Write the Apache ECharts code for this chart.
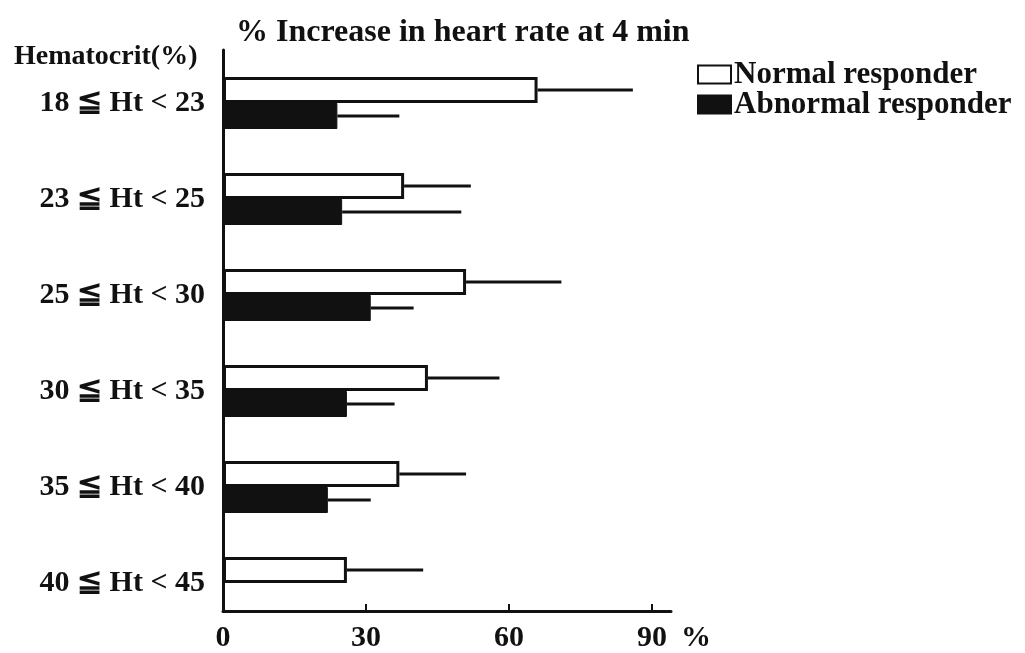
<!DOCTYPE html>
<html>
<head>
<meta charset="utf-8">
<script src="https://cdn.jsdelivr.net/npm/echarts@6/dist/echarts.min.js"></script>
<style>
  html, body { margin: 0; padding: 0; background: #fff; }
  #chart { width: 1025px; height: 653px; }
</style>
</head>
<body>
<div id="chart"></div>
<script>
// Hematocrit ranges (top to bottom)
const categories = ['18 ≦ Ht < 23', '23 ≦ Ht < 25', '25 ≦ Ht < 30', '30 ≦ Ht < 35', '35 ≦ Ht < 40', '40 ≦ Ht < 45'];

// % increase in heart rate at 4 min: mean and SD per group
const normalMean = [66, 38, 51, 43, 37, 26];
const normalSD = [20, 14, 20, 15, 14, 16];
const abnormalMean = [24, 25, 31, 26, 22, null];
const abnormalSD = [13, 25, 9, 10, 9, null];

const xTickValues = [30, 60, 90];
const xLabelValues = [0, 30, 60, 90];

const FONT = 'Liberation Serif';
const INK = '#111';
const BAR_W = 26;
const X_MAX = 94;

// whisker data: [category index, mean, mean + SD, side (-1 upper bar, +1 lower bar)]
function whiskers(means, sds, side) {
  const out = [];
  means.forEach((m, i) => {
    if (m != null && sds[i] != null) out.push([i, m, m + sds[i], side]);
  });
  return out;
}
const errData = whiskers(normalMean, normalSD, -1).concat(whiskers(abnormalMean, abnormalSD, 1));

const chart = echarts.init(document.getElementById('chart'), null, { renderer: 'canvas' });

const gridLeft = 223, gridRight = 354;

chart.setOption({
  backgroundColor: '#fff',
  animation: false,
  title: [
    {
      text: '% Increase in heart rate at 4 min',
      left: 231, top: 12,
      textStyle: { fontFamily: FONT, fontSize: 32, fontWeight: 'bold', color: INK }
    },
    {
      text: 'Hematocrit(%)',
      left: 9, top: 38,
      textStyle: { fontFamily: FONT, fontSize: 28, fontWeight: 'bold', color: INK }
    }
  ],
  legend: {
    data: ['Normal responder', 'Abnormal responder'],
    orient: 'vertical',
    left: 697, top: 59, padding: 0,
    itemWidth: 33, itemHeight: 18, itemGap: -1,
    icon: 'rect',
    textStyle: { fontFamily: FONT, fontSize: 31, lineHeight: 28, fontWeight: 'bold', color: INK, padding: [0, 0, 0, -2] }
  },
  grid: [
    // bars
    { left: gridLeft, right: gridRight, top: 55, bottom: 22 },
    // axis frame
    { left: gridLeft, right: gridRight, top: 50, bottom: 42 }
  ],
  xAxis: [
    { gridIndex: 0, type: 'value', min: 0, max: X_MAX, show: false },
    {
      gridIndex: 1, type: 'value', min: 0, max: X_MAX,
      name: '%', nameLocation: 'end', nameGap: 10,
      nameTextStyle: { fontFamily: FONT, fontSize: 30, fontWeight: 'bold', color: INK, verticalAlign: 'top', padding: [12, 0, 0, 0] },
      axisLine: { show: true, lineStyle: { color: INK, width: 3 } },
      axisTick: { show: true, inside: true, length: 7, lineStyle: { color: INK, width: 2 }, customValues: xTickValues },
      axisLabel: { show: true, margin: 12, fontFamily: FONT, fontSize: 30, fontWeight: 'bold', color: INK, customValues: xLabelValues },
      splitLine: { show: false }
    }
  ],
  yAxis: [
    {
      gridIndex: 0, type: 'category', data: categories, inverse: true,
      axisLine: { show: false }, axisTick: { show: false },
      axisLabel: { margin: 18, fontFamily: FONT, fontSize: 30, fontWeight: 'bold', color: INK },
      splitLine: { show: false }
    },
    {
      gridIndex: 1, type: 'value', min: 0, max: 1,
      axisLine: { show: true, lineStyle: { color: INK, width: 3 } },
      axisTick: { show: false }, axisLabel: { show: false }, splitLine: { show: false }
    }
  ],
  series: [
    {
      name: 'Normal responder', type: 'bar', xAxisIndex: 0, yAxisIndex: 0,
      data: normalMean, barWidth: BAR_W, barGap: '0%',
      itemStyle: { color: '#fff', borderColor: INK, borderWidth: 3 }
    },
    {
      name: 'Abnormal responder', type: 'bar', xAxisIndex: 0, yAxisIndex: 0,
      data: abnormalMean, barWidth: BAR_W, barGap: '0%',
      itemStyle: { color: INK, borderColor: INK, borderWidth: 1 }
    },
    {
      name: 'SD', type: 'custom', xAxisIndex: 0, yAxisIndex: 0,
      data: errData,
      encode: { x: [1, 2], y: 0 },
      z: 1,
      renderItem: function (params, api) {
        const cat = api.value(0);
        const side = api.value(3);
        const p0 = api.coord([api.value(1), cat]);
        const p1 = api.coord([api.value(2), cat]);
        const dy = side * BAR_W / 2;
        return {
          type: 'line',
          shape: { x1: p0[0], y1: p0[1] + dy, x2: p1[0], y2: p1[1] + dy },
          style: { stroke: INK, lineWidth: 2.8 }
        };
      }
    }
  ]
});
</script>
</body>
</html>
